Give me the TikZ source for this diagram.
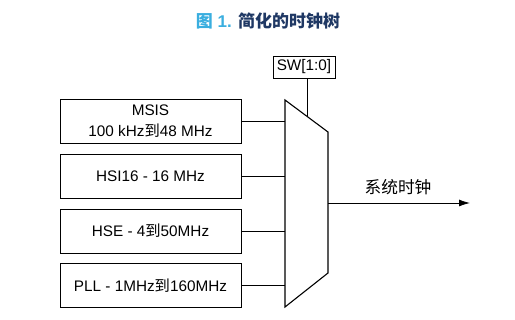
\documentclass[tikz,border=0pt]{standalone}
\usepackage{fontspec}
\setmainfont{Liberation Sans}
\newfontfamily\cjk{Noto Sans CJK SC}
\usepackage{xcolor}
\usetikzlibrary{arrows.meta,positioning}
\definecolor{figblue}{HTML}{3AAEDF}
\definecolor{fignavy}{HTML}{1F3864}

\begin{document}
\begin{tikzpicture}[
    x=1pt, y=-1pt,
    src/.style={draw, align=center, minimum height=44pt,
    minimum width=181pt, font=\fontsize{15.3}{21}\selectfont, line width=0.8pt},
    selbox/.style={draw, align=center, inner sep=2pt, minimum height=22pt,
    minimum width=62pt, font=\fontsize{15.3}{18}\selectfont, line width=0.8pt},
    wire/.style={line width=0.8pt},
    arr/.style={-{Latex[length=11pt,width=7pt]}, line width=0.8pt}
]
\useasboundingbox (0,0) rectangle (515,320);
\node[font=\bfseries\fontsize{17}{20}\selectfont] (title) at (268,21)
    {\textcolor{figblue}{{\cjk 图} 1.} \textcolor{fignavy}{\cjk 简化的时钟树}};
\node[src] (msis) at (150.5,121.5) {MSIS\\100 kHz{\cjk 到}48 MHz};
\node[src] (hsi) at (150.5,176) {HSI16 - 16 MHz};
\node[src] (hse) at (150.5,231) {HSE - 4{\cjk 到}50MHz};
\node[src] (pll) at (150.5,285.5) {PLL - 1MHz{\cjk 到}160MHz};
\node[selbox] (sw) at (304,67) {SW[1:0]};
% clock multiplexer
\coordinate (mtl) at (285,100);
\coordinate (mtr) at (328,132);
\coordinate (mbr) at (328,273);
\coordinate (mbl) at (285,307);
\draw[line width=1.1pt] (mtl) -- (mtr) -- (mbr) -- (mbl) -- cycle;
\coordinate (swin) at (307,116.4);
\coordinate (mout) at (328,203);
\coordinate (sysclk) at (470,203);
\draw[wire] (msis.east) -- (msis.east -| mtl);
\draw[wire] (hsi.east) -- (hsi.east -| mtl);
\draw[wire] (hse.east) -- (hse.east -| mtl);
\draw[wire] (pll.east) -- (pll.east -| mtl);
\draw[wire] (sw.south -| swin) -- (swin);
\draw[arr] (mout) -- (sysclk);
\node[font=\cjk\fontsize{16.7}{20}\selectfont] (lbl) at (398,187) {系统时钟};
\end{tikzpicture}
\end{document}
